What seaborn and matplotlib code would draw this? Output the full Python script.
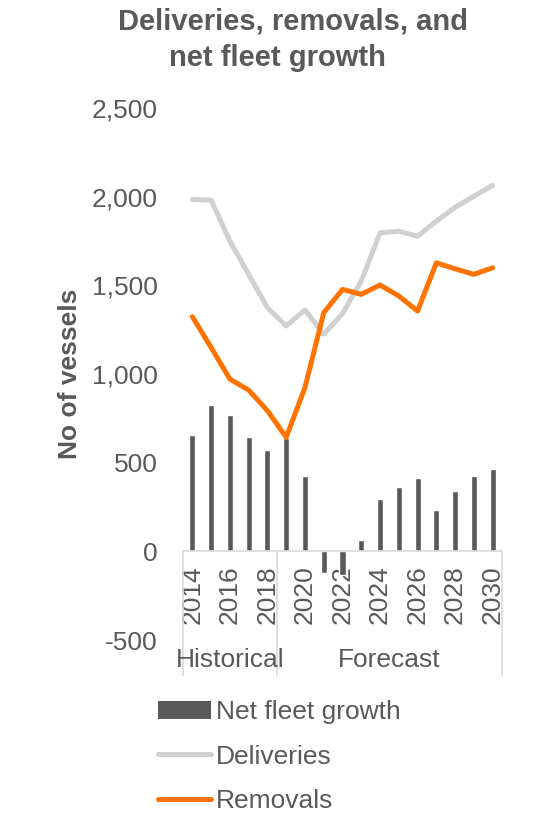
import numpy as np
import pandas as pd
import matplotlib
matplotlib.use("Agg")
import matplotlib.pyplot as plt
import seaborn as sns
from matplotlib.patches import Patch
from matplotlib.lines import Line2D

# data
years = list(range(2014, 2031))
net_growth = [658, 827, 770, 643, 572, 640, 424, -122, -135, 62, 294, 362, 416, 231, 343, 426, 463]
deliveries = [1984, 1980, 1749, 1562, 1374, 1271, 1361, 1224, 1340, 1524, 1796, 1805, 1777, 1862, 1940, 2002, 2064]
removals = [1323, 1149, 971, 909, 793, 643, 924, 1346, 1477, 1449, 1502, 1440, 1355, 1627, 1593, 1562, 1599]
groups = ["Historical", "Forecast"]
group_sizes = [5, 12]
y_ticks = [-500, 0, 500, 1000, 1500, 2000, 2500]

df = pd.DataFrame({"year": [str(y) for y in years], "pos": np.arange(len(years)),
                   "net": net_growth, "deliv": deliveries, "remov": removals})

sns.set_style("white")
plt.rcParams["font.family"] = ["Liberation Sans", "DejaVu Sans"]
txt = "#595959"
bar_c = "#595959"
deliv_c = "#d0d0d0"
remov_c = "#ff7300"
fs = 19

fig = plt.figure(figsize=(5.38, 8.22), dpi=100)
ax = fig.add_axes([183/538, 1-640/822, 319/538, 532/822])

sns.barplot(data=df, x="year", y="net", color=bar_c, width=0.32, ax=ax, saturation=1)
sns.lineplot(data=df, x="pos", y="deliv", color=deliv_c, lw=3.6, ax=ax)
sns.lineplot(data=df, x="pos", y="remov", color=remov_c, lw=3.6, ax=ax)

ax.set_xlim(-0.5, len(years) - 0.5)
ax.set_ylim(-500, 2500)
ax.set_yticks(y_ticks)
ax.set_yticklabels([f"{v:,}" for v in y_ticks])
ax.set_xticks(np.arange(0, len(years), 2))
ax.set_xticklabels([str(y) for y in years[::2]])
ax.set_xlabel("")
ax.set_ylabel("")

for s in ["top", "right", "left"]:
    ax.spines[s].set_visible(False)
ax.spines["bottom"].set_position(("data", 0))
ax.spines["bottom"].set_color("#d9d9d9")
ax.spines["bottom"].set_linewidth(1.2)
ax.tick_params(axis="y", length=0, pad=18, labelsize=fs, labelcolor=txt)
ax.tick_params(axis="x", length=0, pad=10, labelsize=fs, labelcolor=txt, labelrotation=90)

# group separators and labels under the axis
edges = np.concatenate([[0], np.cumsum(group_sizes)]) - 0.5
ax.vlines(edges, -703, 0, color="#d9d9d9", lw=1.2, clip_on=False)
for g, a, b in zip(groups, edges[:-1], edges[1:]):
    ax.text((a + b) / 2, -610, g, ha="center", va="center", fontsize=fs, color=txt, clip_on=False)

fig.text(293/538, 1 - 21/822, "Deliveries, removals, and", ha="center", va="center",
         fontsize=21, fontweight="bold", color=txt)
fig.text(277/538, 1 - 58/822, "net fleet growth", ha="center", va="center",
         fontsize=21, fontweight="bold", color=txt)
fig.text(70/538, 1 - 374/822, "No of vessels", rotation=90, ha="center", va="center",
         fontsize=19, fontweight="bold", color=txt)

handles = [Patch(facecolor=bar_c, edgecolor="none"),
           Line2D([0], [0], color=deliv_c, lw=3.6),
           Line2D([0], [0], color=remov_c, lw=3.6)]
fig.legend(handles, ["Net fleet growth", "Deliveries", "Removals"], loc="upper left",
           bbox_to_anchor=(158/538, 1 - 700/822), frameon=False, fontsize=fs,
           labelcolor=txt, borderpad=0, handlelength=2.0, handletextpad=0.2,
           labelspacing=0.78, borderaxespad=0)

fig.savefig("out.png", dpi=100)
